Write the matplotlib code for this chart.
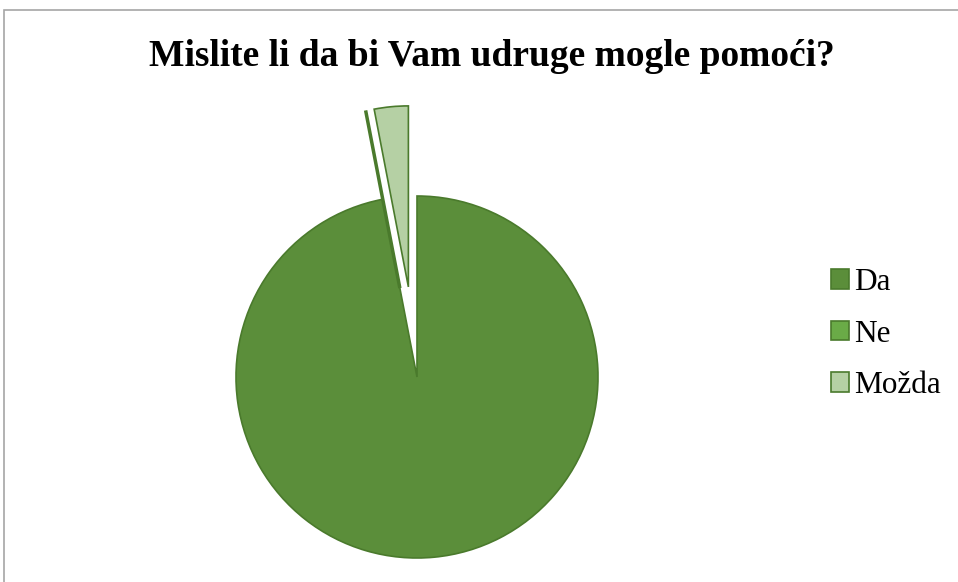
import matplotlib
matplotlib.use('Agg')
import matplotlib.pyplot as plt
from matplotlib.patches import Rectangle

# Podaci
odgovori = ['Da', 'Ne', 'Možda']
broj = [32, 0, 1]
boje = ['#5B8E3A', '#6AAB47', '#B5D0A4']
razmak = [0, 0.5, 0.5]

plt.rcParams['font.family'] = ['Liberation Serif', 'DejaVu Serif']

fig = plt.figure(figsize=(9.58, 5.82), dpi=100)
ax = fig.add_axes([0, 0, 1, 1])

# okvir grafikona
fig.patches.append(Rectangle((4 / 958, -0.1), 1.1, (582 - 10) / 582 + 0.1,
                             transform=fig.transFigure, fill=False,
                             edgecolor='#A6A6A6', linewidth=1.2))

r = 181
wedges, _ = ax.pie(broj, colors=boje, explode=[e * r for e in razmak],
                   startangle=90, counterclock=False,
                   center=(417, 582 - 377), radius=r,
                   wedgeprops=dict(edgecolor='#4A7A2C', linewidth=1.2),
                   frame=True)
wedges[1].set_linewidth(2.5)
ax.set_xlim(0, 958)
ax.set_ylim(0, 582)
ax.set_aspect('equal')
ax.axis('off')

fig.text(0.513, 1 - 57 / 582, 'Mislite li da bi Vam udruge mogle pomoći?',
         ha='center', va='center', fontsize=27, fontweight='bold')

leg = ax.legend(wedges, odgovori, loc='center left',
                bbox_to_anchor=(831 / 958, 1 - 334 / 582),
                frameon=False, fontsize=22.5, handlelength=0.58, handleheight=0.58,
                handletextpad=0.15, labelspacing=0.72,
                borderpad=0, borderaxespad=0)
leg.legend_handles[1].set_linewidth(1.2)

fig.savefig('out.png', dpi=100)
